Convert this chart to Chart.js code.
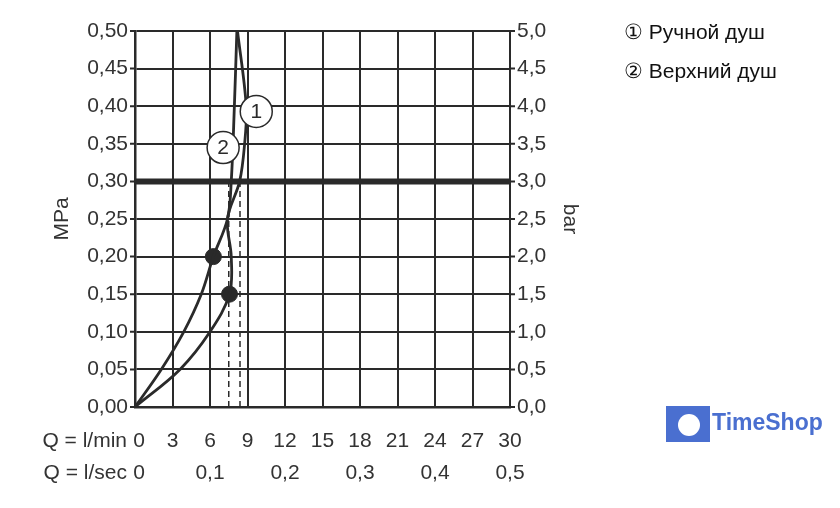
<!DOCTYPE html><html><head><script src="https://cdn.jsdelivr.net/npm/chart.js@4"></script>
<style>body{margin:0;background:#fff}</style></head><body><canvas id="c" width="840" height="508"></canvas>
<script>
const lminTicks=[0,3,6,9,12,15,18,21,24,27,30];
const lsecTicks=['0','0,1','0,2','0,3','0,4','0,5'];
const curve1=[[0,0],[3.6,0.05],[6.0,0.10],[7.56,0.15],[7.7,0.20],[7.4,0.25],[8.37,0.30],[8.77,0.35],[8.9,0.40],[8.2,0.50]];
const curve2=[[0,0],[2.1,0.05],[3.9,0.10],[5.3,0.15],[6.27,0.20],[7.4,0.25],[7.7,0.30],[7.95,0.40],[8.15,0.50]];
const dots=[[7.56,0.15],[6.27,0.20]];
const dash1=[[7.5,0],[7.5,0.30]], dash2=[[8.4,0],[8.4,0.30]];
const refLine=[[0,0.30],[30,0.30]];
const legend=['① Ручной душ','② Верхний душ'];
const F='"Liberation Sans",Arial,sans-serif';
const toPts=a=>a.map(p=>({x:p[0],y:p[1]}));
const C='#2a2a2a';
const yv=[0,0.05,0.1,0.15,0.2,0.25,0.3,0.35,0.4,0.45,0.5];
const deco={id:'deco',afterDraw(ch){const g=ch.ctx,x=ch.scales.x,y=ch.scales.y,a=ch.chartArea;
g.save();g.fillStyle='#333';g.font='21px '+F;g.textBaseline='middle';
g.textAlign='right';
yv.forEach(v=>g.fillText(v.toFixed(2).replace('.',','),a.left-7,y.getPixelForValue(v)));
g.textAlign='left';
yv.forEach(v=>g.fillText((v*10).toFixed(1).replace('.',','),a.right+7,y.getPixelForValue(v)));
g.textAlign='center';
lminTicks.forEach(v=>g.fillText(String(v),x.getPixelForValue(v)+(v==0?4:0),441));
lsecTicks.forEach((t,i)=>g.fillText(t,x.getPixelForValue(i*6)+(i==0?4:0),473));
g.textAlign='right';g.fillText('Q = l/min',127,441);g.fillText('Q = l/sec',127,473);
g.strokeStyle=C;g.lineWidth=2;
yv.forEach(v=>{const py=y.getPixelForValue(v);g.beginPath();g.moveTo(a.left-5,py);g.lineTo(a.left,py);g.moveTo(a.right,py);g.lineTo(a.right+5,py);g.stroke();});
g.save();g.translate(62,219);g.rotate(-Math.PI/2);g.textAlign='center';g.fillText('MPa',0,0);g.restore();
g.save();g.translate(570,219);g.rotate(Math.PI/2);g.textAlign='center';g.fillText('bar',0,0);g.restore();
[[1,9.7,0.393],[2,7.05,0.345]].forEach(([n,vx,vy])=>{const px=x.getPixelForValue(vx),py=y.getPixelForValue(vy);g.beginPath();g.arc(px,py,16,0,2*Math.PI);g.fillStyle='#fff';g.fill();g.lineWidth=1.5;g.stroke();g.fillStyle=C;g.textAlign='center';g.font='21px '+F;g.fillText(String(n),px,py+1);});
g.font='21px '+F;g.textAlign='left';g.fillStyle='#111';
g.fillText(legend[0],624,33);g.fillText(legend[1],624,72);
g.fillStyle='#4a6fd0';g.fillRect(666,406,44,36);g.fillStyle='#fff';g.beginPath();g.arc(689,425,11,0,2*Math.PI);g.fill();
g.fillStyle='#4a6fd0';g.font='bold 23px '+F;g.fillText('TimeShop',712,424);
g.restore();}};
new Chart(document.getElementById('c'),{type:'scatter',data:{datasets:[
{data:toPts(curve1),showLine:true,borderColor:C,borderWidth:2.8,pointRadius:0,tension:0.35},
{data:toPts(curve2),showLine:true,borderColor:C,borderWidth:2.8,pointRadius:0,tension:0.35},
{data:toPts(dash1),showLine:true,borderColor:C,borderWidth:1.5,borderDash:[6,4],pointRadius:0},
{data:toPts(dash2),showLine:true,borderColor:C,borderWidth:1.5,borderDash:[6,4],pointRadius:0},
{data:toPts(refLine),showLine:true,borderColor:C,borderWidth:6,pointRadius:0},
{data:toPts(dots),pointRadius:8,pointBackgroundColor:C,pointBorderColor:C,showLine:false}
]},options:{responsive:false,animation:false,devicePixelRatio:1,
layout:{padding:{left:135,right:330,top:31,bottom:101}},
plugins:{legend:{display:false},tooltip:{enabled:false}},
scales:{x:{type:'linear',min:0,max:30,ticks:{display:false,stepSize:3},border:{color:C,width:2.5},grid:{color:C,lineWidth:2,drawTicks:false}},
y:{min:0,max:0.5,ticks:{display:false,stepSize:0.05},border:{color:C,width:2.5},grid:{color:C,lineWidth:2,drawTicks:false}}}},
plugins:[deco]});
</script></body></html>
